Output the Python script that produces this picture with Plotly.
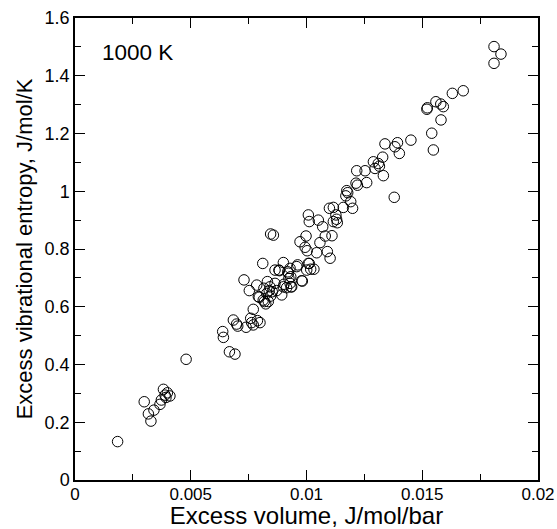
import plotly.graph_objects as go

excess_volume = [
    0.00184, 0.00299, 0.00317, 0.00328, 0.00341, 0.00367, 0.00373, 0.00382, 0.00389, 0.00399, 0.00410, 0.00393, 0.00480,
    0.00638, 0.00641, 0.00667, 0.00691, 0.00684, 0.00698, 0.00739, 0.00770, 0.00759, 0.00788, 0.00799, 0.00770,
    0.00730, 0.00753, 0.00792, 0.00785, 0.00811, 0.00813, 0.00835, 0.00824, 0.00816, 0.00828, 0.00842, 0.00852,
    0.00864, 0.00893, 0.00900, 0.00914, 0.00929, 0.00936, 0.00864, 0.00883, 0.00929, 0.00958, 0.00922, 0.00932,
    0.00900, 0.00979, 0.01018, 0.01032, 0.01012, 0.00857, 0.00845, 0.00998, 0.00972, 0.00994, 0.01003, 0.01044,
    0.01058, 0.01081, 0.01110, 0.01090, 0.01102, 0.00845, 0.00871, 0.00903, 0.00919, 0.01008, 0.01012, 0.01051,
    0.01070, 0.01116, 0.01099, 0.01127, 0.01130, 0.01133, 0.01116, 0.01159, 0.01199, 0.01191, 0.01170, 0.01178,
    0.01174, 0.01214, 0.01220, 0.01260, 0.01217, 0.01253, 0.01289, 0.01310, 0.01329, 0.01296, 0.01315, 0.01332,
    0.01339, 0.01382, 0.01393, 0.01401, 0.01451, 0.01379, 0.01541, 0.01548, 0.01520, 0.01522, 0.01559, 0.01580,
    0.01591, 0.01581, 0.01630, 0.01677, 0.01810, 0.01840, 0.01810,
    0.00703, 0.00763, 0.00796, 0.00818, 0.00831, 0.00839, 0.00881, 0.00924, 0.00933, 0.00962, 0.00982, 0.01001, 0.01008,
]
excess_entropy = [
    0.133, 0.271, 0.229, 0.204, 0.242, 0.262, 0.277, 0.314, 0.294, 0.302, 0.291, 0.286, 0.418,
    0.514, 0.494, 0.444, 0.436, 0.554, 0.540, 0.529, 0.537, 0.560, 0.552, 0.545, 0.591,
    0.693, 0.656, 0.635, 0.675, 0.750, 0.623, 0.618, 0.610, 0.664, 0.646, 0.669, 0.652,
    0.681, 0.641, 0.669, 0.666, 0.681, 0.669, 0.727, 0.725, 0.733, 0.739, 0.716, 0.704,
    0.753, 0.690, 0.730, 0.730, 0.750, 0.848, 0.852, 0.845, 0.825, 0.806, 0.794, 0.787,
    0.822, 0.845, 0.846, 0.791, 0.768, 0.637, 0.656, 0.678, 0.721, 0.918, 0.895, 0.900,
    0.877, 0.944, 0.941, 0.918, 0.903, 0.891, 0.895, 0.944, 0.941, 0.964, 0.984, 0.995,
    1.002, 1.028, 1.021, 1.030, 1.071, 1.071, 1.102, 1.096, 1.118, 1.079, 1.087, 1.054,
    1.164, 1.154, 1.168, 1.131, 1.177, 0.979, 1.201, 1.143, 1.284, 1.289, 1.310, 1.302,
    1.293, 1.247, 1.339, 1.348, 1.501, 1.475, 1.443,
    0.533, 0.545, 0.633, 0.618, 0.687, 0.656, 0.727, 0.698, 0.669, 0.745, 0.689, 0.727, 0.750,
]

x_title = "Excess volume, J/mol/bar"
y_title = "Excess vibrational entropy, J/mol/K"
label = "1000 K"

FONT = "Liberation Sans, Arial, Helvetica, sans-serif"

fig = go.Figure()
fig.add_trace(go.Scatter(
    x=excess_volume, y=excess_entropy, mode="markers",
    marker=dict(symbol="circle-open", size=10.5, color="black", line=dict(width=1, color="black")),
    showlegend=False, hoverinfo="x+y",
))

axis_common = dict(
    showgrid=False, zeroline=False, showline=True, linecolor="black", linewidth=1.5,
    mirror="allticks", ticks="inside", ticklen=10, tickwidth=1, tickcolor="black",
    automargin=False,
)

fig.update_xaxes(
    range=[0, 0.02], dtick=0.005, tick0=0,
    tickfont=dict(family=FONT, size=17, color="black"), ticklabelstandoff=-2,
    minor=dict(dtick=0.0025, ticks="inside", ticklen=6, tickcolor="black", tickwidth=1),
    title=dict(text=x_title, font=dict(family=FONT, size=24, color="black"), standoff=4),
    **axis_common,
)
fig.update_yaxes(
    range=[0, 1.6], dtick=0.2, tick0=0,
    tickfont=dict(family=FONT, size=18, color="black"),
    minor=dict(dtick=0.1, ticks="inside", ticklen=6, tickcolor="black", tickwidth=1),
    title=dict(text=y_title, font=dict(family=FONT, size=22, color="black"), standoff=6),
    **axis_common,
)

fig.add_annotation(
    x=0.0011, y=1.48, xref="x", yref="y", text=label, showarrow=False,
    xanchor="left", yanchor="middle", font=dict(family=FONT, size=22.5, color="black"),
)

fig.update_layout(
    width=557, height=529,
    margin=dict(l=75, r=19, t=18, b=49),
    plot_bgcolor="white", paper_bgcolor="white",
    font=dict(family=FONT, color="black"),
)

fig.write_html(
    "out.html",
    config={"displayModeBar": False},
    post_script="document.body.style.margin='0';document.body.style.padding='0';document.body.style.overflow='hidden';",
)
